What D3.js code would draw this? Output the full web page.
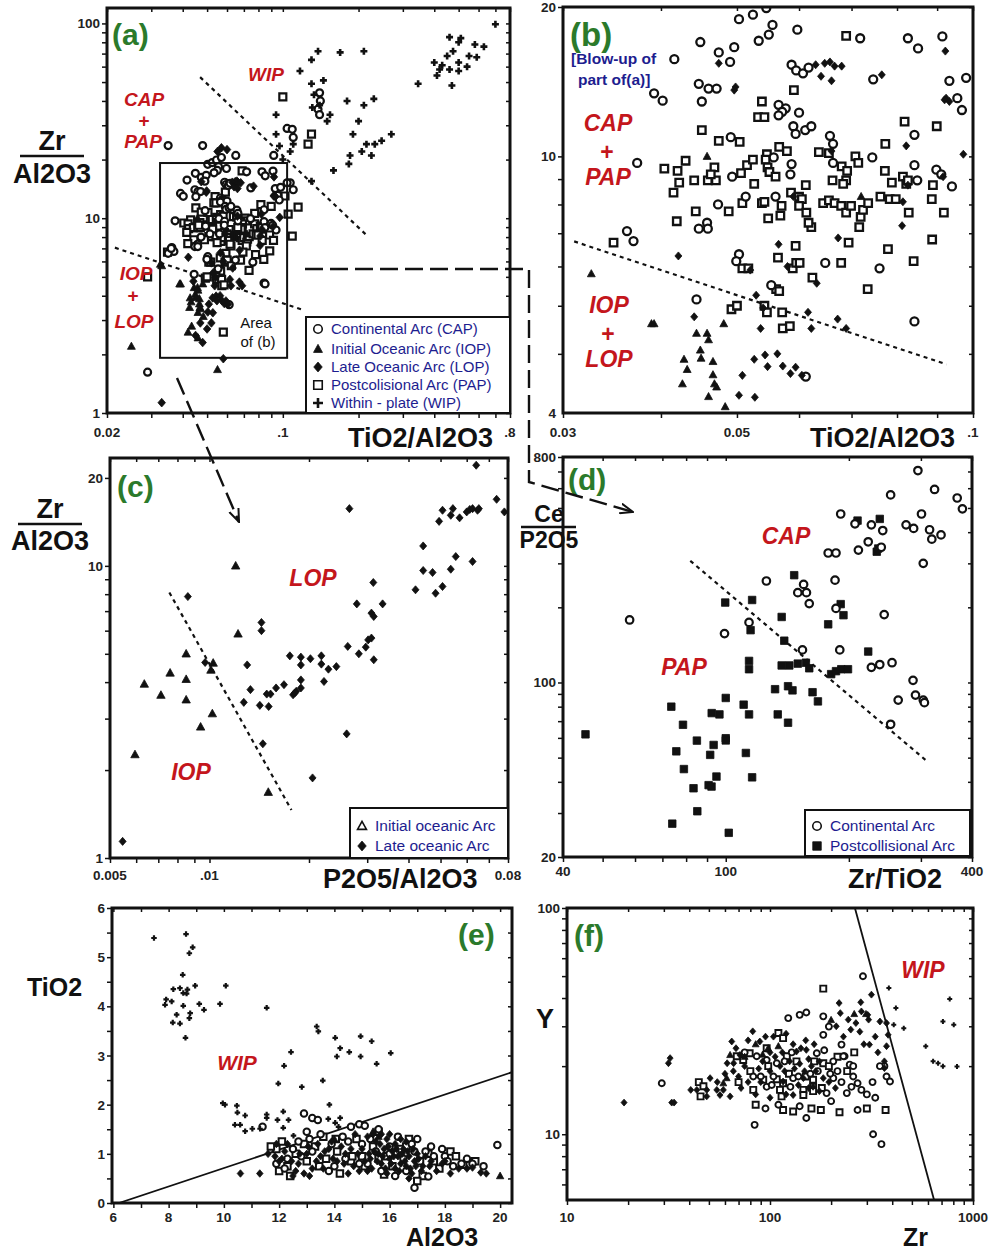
<!DOCTYPE html>
<html>
<head>
<meta charset="utf-8">
<script src="https://cdn.jsdelivr.net/npm/d3@7"></script>
<style>
  body { margin: 0; background: #fff; }
  svg { display: block; }
  text { font-family: "Liberation Sans", Arial, sans-serif; }
</style>
</head>
<body>
<svg id="fig" width="990" height="1254"></svg>
<script>
// ---- data ----
// (b) TiO2/Al2O3 vs Zr/Al2O3, blow-up (also re-used inside the box of (a))
const bCAP = [[0.0503,18.9],[0.0524,19.3],[0.0545,19.9],[0.0555,18.4],[0.0549,17.6],[0.0533,17.1],[0.0597,18],[0.0718,17.3],[0.0826,17.3],[0.0851,16.5],[0.0914,17.45],[0.0449,17],[0.0474,16.2],[0.0496,16.6],[0.049,15.5],[0.0416,15.7],[0.0587,15.3],[0.0595,14.9],[0.0607,14.7],[0.0617,15.1],[0.0746,14.3],[0.0933,14.2],[0.098,14.4],[0.0447,14],[0.046,13.7],[0.0471,13.7],[0.0392,13.4],[0.0402,12.95],[0.0451,12.9],[0.0565,12.7],[0.0577,12.5],[0.0571,12.3],[0.0565,12.1],[0.06,12.25],[0.0955,13.1],[0.0968,12.4],[0.0491,10.93],[0.059,11.5],[0.0594,11.1],[0.0611,11.3],[0.0622,11.5],[0.0842,11.05],[0.0657,11],[0.0663,10.6],[0.0557,9.95],[0.0744,9.95],[0.0663,9.7],[0.0373,9.7],[0.0493,9.1],[0.0587,9.65],[0.0585,9.2],[0.0842,9.6],[0.0849,8.95],[0.0898,9.4],[0.0911,9.2],[0.094,8.7],[0.056,8.3],[0.0513,8.3],[0.0473,8],[0.0458,7.35],[0.0447,7.15],[0.0459,7.15],[0.0362,7.07],[0.0369,6.75],[0.0503,6.35],[0.0499,6.15],[0.0648,6.1],[0.076,5.95],[0.0553,5.5],[0.0444,5.15],[0.0842,4.65],[0.0612,3.6]]
const bPAP = [[0.0689,17.5],[0.0591,13.6],[0.0538,12.9],[0.0532,12],[0.0542,12],[0.0451,11.3],[0.0474,10.75],[0.0504,10.7],[0.0818,11.75],[0.0899,11.5],[0.0566,10.45],[0.0579,10.25],[0.0773,10.6],[0.0636,10.2],[0.0655,10.15],[0.0546,10.1],[0.0708,10],[0.0714,9.7],[0.068,9.55],[0.0691,9.35],[0.0404,9.45],[0.043,9.8],[0.042,9.35],[0.0422,8.85],[0.0441,8.95],[0.0459,8.95],[0.047,8.95],[0.0468,9.5],[0.0463,9.2],[0.0506,9.25],[0.0515,9.6],[0.0524,9.85],[0.0544,9.85],[0.0547,9.5],[0.055,9.3],[0.056,9.1],[0.0772,9.35],[0.0788,8.85],[0.0814,9.1],[0.0822,8.8],[0.0826,8.95],[0.0889,8.75],[0.0689,8.95],[0.0683,8.8],[0.0662,8.95],[0.0415,8.45],[0.0526,8.8],[0.0612,8.75],[0.0586,8.45],[0.06,8.3],[0.0605,8.2],[0.06,7.95],[0.0613,7.7],[0.0622,7.2],[0.0617,7.35],[0.0538,8.05],[0.0542,8.1],[0.0508,8.05],[0.0488,7.75],[0.0443,7.75],[0.0419,7.4],[0.0568,7.6],[0.057,7.95],[0.0548,7.5],[0.0644,8.05],[0.0655,8.15],[0.0666,8.05],[0.0679,7.95],[0.0689,7.7],[0.0699,7.95],[0.0719,7.55],[0.0724,7.8],[0.0735,8.05],[0.0716,7.2],[0.0762,8.3],[0.0783,8.2],[0.0797,8.2],[0.0828,7.7],[0.0886,8.2],[0.0918,7.7],[0.0348,6.7],[0.0887,6.8],[0.0694,6.7],[0.0594,6.6],[0.0564,6.25],[0.0508,5.95],[0.0517,5.95],[0.0589,5.95],[0.0595,6.1],[0.0601,6.1],[0.0779,6.5],[0.0679,6.1],[0.084,6.15],[0.0624,5.7],[0.0561,5.4],[0.0566,5.35],[0.0734,5.4],[0.0492,4.92],[0.05,5],[0.0542,5],[0.0546,4.85],[0.0571,4.85],[0.0572,4.5],[0.0584,4.55]]
const bLOP = [[0.0922,16.3],[0.0474,15.4],[0.063,15.3],[0.064,14.5],[0.0647,15.4],[0.0657,15.5],[0.0666,15.2],[0.066,14.2],[0.068,15.2],[0.0765,14.6],[0.0498,13.8],[0.0496,13.6],[0.0924,13.1],[0.0933,12.9],[0.092,13],[0.0822,10.5],[0.0972,10.1],[0.066,10.25],[0.0826,8.75],[0.0916,9.1],[0.059,8.3],[0.0814,8.1],[0.0812,7.25],[0.0421,6.3],[0.0673,6.85],[0.0565,6.65],[0.052,5.9],[0.058,6],[0.0632,5.55],[0.0529,5.25],[0.0441,4.75],[0.054,4.95],[0.0616,4.85],[0.0672,4.7],[0.0536,4.5],[0.0622,4.5],[0.0689,4.5],[0.0543,3.98],[0.0563,4],[0.0526,3.9],[0.0547,3.77],[0.0572,3.78],[0.0585,3.65],[0.0594,3.76],[0.0605,3.62],[0.0508,3.62],[0.0503,3.3],[0.0527,3.27]]
const bIOP = [[0.0458,10],[0.072,8.3],[0.0326,5.8],[0.0389,4.6],[0.0392,4.6],[0.0481,4.6],[0.0444,4.4],[0.0458,4.4],[0.046,4.27],[0.0449,4.07],[0.045,3.92],[0.0428,3.9],[0.0432,3.72],[0.0426,3.48],[0.0466,3.86],[0.0466,3.63],[0.0468,3.48],[0.0471,3.43],[0.046,3.28],[0.0483,3.13]]

// (a) samples lying outside the window of (b)
const aWIP = [[0.7,99],[0.138,72],[0.13,65],[0.169,71],[0.21,72],[0.117,57],[0.145,51],[0.13,49],[0.46,85],[0.51,84],[0.5,80],[0.58,78],[0.63,76],[0.475,72],[0.45,68],[0.55,68],[0.4,63],[0.43,61],[0.5,63],[0.59,67],[0.42,58],[0.46,58],[0.41,54],[0.5,57],[0.54,60],[0.47,48],[0.345,49],[0.18,40],[0.21,38],[0.23,41],[0.094,34],[0.133,43],[0.14,38],[0.154,34],[0.15,31.5],[0.131,37],[0.2,31.5],[0.19,27],[0.215,24],[0.232,24],[0.247,25],[0.27,27],[0.206,22],[0.185,21],[0.183,19],[0.225,21],[0.159,17.6],[0.13,15.5],[0.094,27],[0.11,24],[0.107,22],[0.097,23.5],[0.1,20]]
const aCAP = [[0.035,23.6],[0.048,23.6],[0.029,1.62],[0.104,28.9],[0.109,28.6],[0.11,26],[0.14,44],[0.141,40],[0.138,36.3],[0.14,34],[0.092,21],[0.107,15.2],[0.085,4.6],[0.035,6.6],[0.036,7],[0.104,15.2],[0.11,14],[0.057,20.5],[0.065,21]]
const aPAP = [[0.1,42],[0.13,27],[0.126,24],[0.029,5],[0.058,2.6],[0.109,8.1],[0.115,11.4],[0.102,13],[0.105,10.5]]
const aIOP = [[0.025,2.2],[0.055,1.67],[0.033,5.7],[0.0434,2.79],[0.046,2.43],[0.042,2.6]]
const aLOP = [[0.033,1.13],[0.058,1.9],[0.055,22],[0.057,23],[0.06,22.5],[0.045,2.5],[0.048,2.3],[0.05,2.7],[0.052,2.9],[0.047,2.9]]
const aAreaB = [[0.0325, 1.92], [0.104, 19.2]]
const aLineWIP = [[0.0469, 53], [0.216, 8.15]]
const aLineIOP = [[0.0215, 7.06], [0.122, 3.36]]
const bLine = [[0.031, 6.74], [0.0925, 3.81]]

// (c) P2O5/Al2O3 vs Zr/Al2O3
const cIOP = [[0.012,10],[0.0122,5.85],[0.0085,5],[0.0076,4.3],[0.0085,4.09],[0.00635,3.94],[0.00713,3.61],[0.0085,3.48],[0.01026,4.65],[0.0102,3.12],[0.0094,2.81],[0.00595,2.26],[0.01506,1.68],[0.0101,4.4]]
const cLOP = [[0.00546,1.14],[0.0086,7.85],[0.01436,6.4],[0.01436,6],[0.0097,4.67],[0.013,4.58],[0.0133,3.77],[0.0127,3.41],[0.0142,3.33],[0.0151,3.3],[0.0149,3.64],[0.0153,3.64],[0.0159,3.82],[0.0168,3.92],[0.0179,3.62],[0.0183,3.72],[0.0189,3.82],[0.0189,4.07],[0.0181,3.67],[0.0175,4.92],[0.0189,4.87],[0.0189,4.58],[0.0202,4.81],[0.0218,4.92],[0.0218,4.61],[0.0229,4.43],[0.0222,4.02],[0.0242,4.52],[0.0262,5.3],[0.0283,5],[0.0297,5.27],[0.0302,5.58],[0.0309,5.66],[0.0314,4.77],[0.0279,7.41],[0.0309,6.89],[0.0314,6.71],[0.0334,7.41],[0.0313,8.77],[0.026,2.66],[0.0205,1.88],[0.0145,2.46],[0.0265,15.7],[0.042,8.28],[0.0443,9.64],[0.0473,9.49],[0.0483,8.06],[0.0443,11.7],[0.0507,8.5],[0.0537,9.74],[0.0556,10.76],[0.0625,10.35],[0.0495,14.2],[0.0507,15.5],[0.0545,15.7],[0.0537,14.9],[0.0571,14.6],[0.06,15.3],[0.0613,15.6],[0.0625,15.7],[0.0647,15.5],[0.0653,15.7],[0.0641,22.1],[0.0739,16.9],[0.078,15.3]]
const cLine = [[0.00756, 8.11], [0.0177, 1.46]]

// (d) Zr/TiO2 vs Ce/P2O5
const dCAP = [[58.2,178],[99.3,157],[125.7,255],[114,174],[154,135],[150,229],[155,247],[157.5,229],[160,207],[185,257],[186,198],[190,135],[191,473],[178,330],[186,330],[207,432],[211,339],[223,366],[227,428],[242,406],[240,348],[253,564],[295,706],[324,593],[368,548],[379,496],[301,473],[276,428],[288,414],[315,409],[319,375],[336,390],[304,300],[244,187],[227,115],[238,118],[255,120],[287,102],[291,89],[304,85],[306,83],[264,85],[253,68]]
const dPAP = [[45.4,62],[73.6,80],[78.6,67.7],[75.7,53],[85,58.5],[79,45],[83.4,37.7],[85.2,30.5],[74,27.2],[101.7,25],[91.6,51.3],[93.4,56.2],[90.8,38.8],[92.3,38.3],[94.9,42],[92.4,75.4],[96.5,74.5],[100,86.7],[100,59.8],[100,58.6],[110.6,81.5],[114,74.5],[112,52.2],[116,41.7],[114,122],[114,113],[116,214],[99.7,209],[115,162],[132,94],[134,74.5],[142,69],[137,183],[139,147],[147,269],[137,117],[143,117],[150,119],[157,120],[160,114],[142,96.6],[145.6,93],[163,91.4],[168,84],[178,171],[191,206],[194,186],[181,108],[186,111],[191.6,113],[199,113],[210,445],[238,452],[234,334],[236,344],[223,133]]
const dLine = [[81.9, 307], [309, 48.7]]

// (e) Al2O3 vs TiO2
const eWIP = [[7.47,5.39],[8.63,5.47],[8.75,5.08],[8.87,5.2],[8.51,4.64],[8.17,4.35],[8.41,4.37],[8.53,4.27],[8.68,4.34],[8.96,4.42],[8.65,4.26],[7.91,4.14],[7.87,4.03],[8.11,4.1],[8.53,4.01],[8.78,3.86],[8.75,3.76],[9.28,3.93],[9.11,4.05],[9.86,4.05],[10.07,4.42],[8.15,3.67],[8.41,3.65],[8.29,3.83],[8.61,3.36],[11.55,3.97],[13.36,3.59],[13.42,3.49],[14.03,3.36],[14.21,3.15],[14.09,2.98],[14.54,3.07],[14.95,3.39],[14.95,2.98],[15.35,3.29],[15.53,2.83],[16.04,3.05],[12.43,3.07],[12.18,2.79],[11.97,2.43],[12.82,2.36],[13.58,2.49],[13.82,2],[9.96,2.03],[10.04,2],[10.47,1.98],[10.49,1.84],[10.4,1.59],[10.59,1.59],[10.77,1.78],[10.77,1.46],[11.03,1.51],[11.55,1.8],[11.55,1.73],[11.94,1.69],[12.15,1.86],[12.34,1.69],[12.15,1.53],[12.52,1.37],[14.21,1.73],[14.15,1.55],[14.03,1.63],[13.78,1.71],[11.31,1.51]]
const eCAP = [[11.4,1.55],[12.9,1.82],[13.2,1.73],[13.4,1.69],[14.9,1.6],[15.1,1.57],[15.6,1.5],[17,1.3],[17.9,1.1],[19.9,1.18],[16.3,1.35],[13.5,1.4],[14.5,1.25],[15,1.2],[16,1.15],[16.8,1.2],[17.3,1.05],[18,0.95],[18.6,0.8],[12.5,1.1],[12.8,0.95],[13.1,1.3],[14,0.75],[15.2,0.8],[16.5,0.9],[17.6,0.95],[18.3,0.75],[12.2,0.7],[16.2,0.55],[16.9,0.31],[14.3,1.35],[13.9,1.2],[15.5,1.05],[16.6,0.65],[19,0.8],[17.4,0.54],[12.3,0.9],[12.7,1.25],[13.2,1.05],[13.8,0.65],[14.4,0.9],[14.9,0.8],[15.3,1.3],[15.7,0.65],[16,1],[16.9,1.05],[17.5,1.15],[18.1,0.85],[18.8,0.9],[19.4,0.75],[14.6,1.55],[13,1.45],[11.9,0.8]]
const ePAP = [[12,0.65],[12.3,0.75],[12.6,1],[13,0.85],[13.3,1.15],[13.7,0.9],[14.1,1.05],[14.6,0.85],[15,0.95],[15.4,1.15],[15.8,0.58],[15.9,0.95],[16.4,1.1],[16.7,1.3],[17.1,0.85],[17.4,1],[17.8,0.7],[18.2,1.05],[18.7,0.78],[18.9,0.78],[11.9,1.1],[13.6,1.35],[14.8,1.3],[15.6,1.45],[16.1,0.75],[17.2,0.55],[12.4,0.55],[14.2,0.6],[12.9,1.2],[13.45,0.75],[14.05,1.3],[14.65,0.95],[15.1,0.75],[15.6,0.9],[16.2,1],[16.6,1.15],[17.6,0.85],[18.4,0.95],[19.1,0.85],[17,0.45],[12.1,1.25],[11.7,1.15]]
const eLOP = [[10.6,0.6],[11.3,0.6],[11.6,1],[11.9,1.2],[12.1,0.9],[12.5,0.55],[12.7,0.8],[13,1],[13.2,0.7],[13.5,0.95],[13.8,1.1],[14.1,0.85],[14.4,1],[14.7,0.75],[15,1.1],[15.3,0.9],[15.5,1.25],[15.6,1],[15.7,0.8],[15.8,1.1],[15.9,1.3],[16,0.9],[16.1,1.05],[16.2,0.7],[16.3,0.95],[16.4,0.8],[16.5,1.1],[16.6,0.75],[16.7,0.95],[16.8,0.6],[16.9,0.85],[17,1],[17.2,0.75],[17.5,0.85],[17.7,0.65],[18,0.85],[18.5,0.7],[19,0.72],[19.3,0.62],[12.3,1.2],[13.9,1.25],[14.9,0.65],[15.2,0.65],[15.4,1.4],[16.2,1.2],[13.4,1.2],[12.9,0.6],[15.9,0.6],[16.6,1.25],[15.45,1.05],[15.55,0.85],[15.65,1.2],[15.75,0.95],[15.85,0.7],[15.95,1.15],[16.05,0.8],[16.15,0.95],[16.25,1.1],[16.35,0.65],[16.45,1],[16.55,0.85],[16.65,1.05],[16.75,0.7],[16.85,1.1],[16.95,0.75],[17.05,0.9],[17.15,0.65],[17.3,0.95],[17.45,0.75],[15.25,1],[15.1,0.85],[14.85,1],[14.6,1.1],[14.35,0.8],[14.25,1.15],[13.95,0.9],[13.65,1.05],[13.35,0.85],[13.05,1.15],[12.75,1],[12.45,0.85],[12.2,1.05],[12,0.85],[11.85,0.95],[12.6,0.65],[13.1,0.55],[13.6,0.7],[14.5,0.6],[15.35,0.7],[16.7,0.5],[17.9,0.8],[18.2,0.6],[18.8,0.7],[19.5,0.6],[14.75,1.4],[15.2,1.35],[15.7,1.4],[16,1.4],[16.4,1.3]]
const eIOP = [[20,0.55],[15.6,1.35],[15.4,1.45],[14,1.3]]
const eLine = [[6.2, 0], [20.43, 2.66]]

// (f) Zr vs Y
const fWIP = [[385,44.3],[417,36.1],[407,30.5],[456,29.4],[768,39.6],[711,31.5],[804,30.5],[585,24.5],[636,21],[673,20.6],[711,20],[834,19.9]]
const fCAP = [[29.3,16.8],[84,11],[322,10],[354,9.04],[287,49.9],[123,32.6],[140,33.7],[151,34.5],[183,33.2],[195,29.9],[183,27.5],[225,24.9],[233,22.1],[86,22.1],[96.3,21.3],[108,20.6],[170,22.8],[205,21],[230,22.1],[247,20.3],[257,20],[366,20],[375,18],[390,17.1],[348,20],[252,16.2],[239,15.2],[282,15.7],[257,18],[270,16.8],[82.7,18],[104,18],[130,17.7],[205,17.7],[96.3,16.2],[126,16.2],[190,15.2],[270,12.8],[151,11.8],[75,23],[90,18],[102,16.5],[118,21],[128,23],[138,18],[158,18.5],[172,19],[185,23.5],[198,18.5],[215,19],[225,17],[110,13.5],[95,13],[140,13.3],[200,14],[320,17],[330,14.5],[300,15]]
const fPAP = [[183,44],[44.6,17],[47,16.3],[45.5,14.7],[92.6,17.4],[121,22.1],[116,16.8],[163,17.4],[82.7,15.7],[112,15.7],[146,15.7],[163,16.2],[116,12.8],[178,12.8],[371,12.8],[114,14.7],[146,14.9],[163,15.5],[79.4,22.8],[73.8,21.3],[68.6,22.1],[96.3,24],[110,28],[116,26.6],[183,20.6],[70,17],[80,19],[98,20],[108,17.5],[124,18.5],[135,21],[150,18],[165,21],[180,16],[195,20],[215,22],[240,19],[260,23],[85,13.5],[130,12.6],[160,13],[220,12.5],[300,13]]
const fLOP = [[19.1,13.8],[32.8,13.8],[33.7,13.8],[32.2,21.7],[31.6,20.6],[40.7,15.7],[50.7,17.7],[64.8,25.7],[82.2,28.5],[219,38],[222,34.3],[243,32.1],[280,38.3],[316,41.4],[282,34.9],[303,33.7],[306,32.1],[348,31.5],[375,31],[382,27.5],[277,28.4],[309,24.9],[366,21],[375,24.5],[366,19.6],[61.5,20.6],[66.2,20.6],[71.1,22.4],[56.7,14.9],[63.6,14.7],[89.1,25.7],[104,27],[120,27.8],[135,23.2],[151,23.6],[116,17.1],[146,17.7],[183,17.7],[163,16.2],[130,14.9],[43.6,15.7],[48.8,15.7],[54.7,15.7],[58.9,15.7],[48.8,14.7],[66,19],[70,18],[75,20],[78,17],[88,19.5],[92,21],[100,19],[106,22],[112,20],[118,19],[125,21],[132,19.5],[140,20.5],[148,19],[155,21.5],[160,20],[168,19],[175,21],[142,24],[130,25],[150,26],[165,25],[115,23],[100,23],[90,17],[72,16],[85,15],[138,16.5],[155,16],[175,15.5],[195,17],[210,16],[60,18.5],[55,17],[100,14.5],[120,15],[68,24],[78,26],[95,27],[212,30],[230,27],[250,29],[265,31],[330,27],[340,23],[290,25]]
const fIOP = [[85,25],[98,24],[63.6,22.4],[297,34],[58.9,16.8],[61.2,17.7],[75,22],[92,22.5],[110,24.5],[200,32],[260,34]]
const fLine = [[262, 100], [643, 5.12]]

// tick labels [value, text]
const aXTicks = [[0.02, '0.02'], [0.1, '.1'], [0.8, '.8']]
const aYTicks = [[100, '100'], [10, '10'], [1, '1']]
const bXTicks = [[0.03, '0.03'], [0.05, '0.05'], [0.1, '.1']]
const bYTicks = [[20, '20'], [10, '10'], [3.04, '4']]
const cXTicks = [[0.005, '0.005'], [0.01, '.01'], [0.08, '0.08']]
const cYTicks = [[20, '20'], [10, '10'], [1, '1']]
const dXTicks = [[40, '40'], [100, '100'], [400, '400']]
const dYTicks = [[800, '800'], [100, '100'], [20, '20']]
const eXTicks = [6, 8, 10, 12, 14, 16, 18, 20].map(v => [v, String(v)])
const eYTicks = [0, 1, 2, 3, 4, 5, 6].map(v => [v, String(v)])
const fXTicks = [[10, '10'], [100, '100'], [1000, '1000']]
const fYTicks = [[100, '100'], [10, '10']]

const aLegend = [['circle', 'Continental Arc (CAP)'], ['tri', 'Initial Oceanic Arc (IOP)'], ['diamond', 'Late Oceanic Arc (LOP)'], ['square', 'Postcolisional Arc (PAP)'], ['plus', 'Within - plate (WIP)']]
const cLegend = [['triOpen', 'Initial oceanic Arc'], ['diamond', 'Late oceanic Arc']]
const dLegend = [['circle', 'Continental Arc'], ['squareFill', 'Postcollisional Arc']]

const GREEN = '#2b7a2b'
const RED = '#c4161c'
const NAVY = '#1d1d8f'

const svg = d3.select('#fig')
svg.append('rect').attr('width', 990).attr('height', 1254).attr('fill', '#fff')

const defs = svg.append('defs')
defs.append('marker')
  .attr('id', 'arr').attr('viewBox', '0 -6 14 12')
  .attr('refX', 13).attr('refY', 0)
  .attr('markerWidth', 14).attr('markerHeight', 12)
  .attr('markerUnits', 'userSpaceOnUse').attr('orient', 'auto')
  .append('path').attr('d', 'M0,-5L13,0L0,5').attr('fill', 'none')
  .attr('stroke', '#111').attr('stroke-width', 2)

// marker shapes, s = size in px
function shape (kind, s) {
  const r = s / 2
  switch (kind) {
    case 'circle': return d3.symbol(d3.symbolCircle, Math.PI * r * r)()
    case 'square':
    case 'squareFill': return `M${-r},${-r}h${s}v${s}h${-s}Z`
    case 'diamond': return `M0,${-r * 1.15}L${r},0L0,${r * 1.15}L${-r},0Z`
    case 'tri':
    case 'triOpen': return `M0,${-r * 1.1}L${r * 1.05},${r * 0.8}L${-r * 1.05},${r * 0.8}Z`
    case 'plus': return `M${-r},0H${r}M0,${-r}V${r}`
  }
}

function styleMark (sel, kind, sw) {
  const open = ['circle', 'square', 'triOpen', 'plus'].includes(kind)
  sel.attr('fill', open ? (kind === 'plus' ? 'none' : '#fff') : '#111')
    .attr('stroke', '#111')
    .attr('stroke-width', open ? (sw || 2) : 0.8)
}

let clipN = 0

function panel (o) {
  const g = svg.append('g')
  const x = (o.xlog ? d3.scaleLog() : d3.scaleLinear()).domain(o.xd).range([o.x0, o.x1])
  const y = (o.ylog ? d3.scaleLog() : d3.scaleLinear()).domain(o.yd).range([o.y1, o.y0])

  const xt = o.xlog ? x.ticks() : x.ticks(o.xn || 14)
  const yt = o.ylog ? y.ticks() : y.ticks(o.yn || 12)

  const ax = [
    [d3.axisBottom(x).tickValues(xt).tickSize(5), `translate(0,${o.y1})`],
    [d3.axisTop(x).tickValues(xt).tickSize(-4), `translate(0,${o.y0})`],
    [d3.axisLeft(y).tickValues(yt).tickSize(5), `translate(${o.x0},0)`],
    [d3.axisRight(y).tickValues(yt).tickSize(-4), `translate(${o.x1},0)`]
  ]
  ax.forEach(([a, t]) => {
    const ga = g.append('g').attr('transform', t).call(a.tickFormat(''))
    ga.select('.domain').remove()
    ga.selectAll('line').attr('stroke', '#111').attr('stroke-width', 1.5)
  })

  const id = 'clip' + (clipN++)
  defs.append('clipPath').attr('id', id).append('rect')
    .attr('x', o.x0).attr('y', o.y0).attr('width', o.x1 - o.x0).attr('height', o.y1 - o.y0)
  const inner = g.append('g').attr('clip-path', `url(#${id})`)

  // boundary lines
  ;(o.lines || []).forEach(l => {
    inner.append('line')
      .attr('x1', x(l.d[0][0])).attr('y1', y(l.d[0][1]))
      .attr('x2', x(l.d[1][0])).attr('y2', y(l.d[1][1]))
      .attr('stroke', '#111').attr('stroke-width', l.dash ? 2.2 : 1.8)
      .attr('stroke-dasharray', l.dash ? '4,4' : null)
  })

  // points
  o.series.forEach(s => {
    inner.append('g').selectAll('path').data(s.data).join('path')
      .attr('transform', d => `translate(${x(d[0])},${y(d[1])})`)
      .attr('d', shape(s.kind, s.size || 7))
      .call(sel => styleMark(sel, s.kind, s.sw))
  })

  // frame
  g.append('rect').attr('x', o.x0).attr('y', o.y0)
    .attr('width', o.x1 - o.x0).attr('height', o.y1 - o.y0)
    .attr('fill', 'none').attr('stroke', '#111').attr('stroke-width', 3)

  // tick labels
  g.selectAll('.xl').data(o.xTicks).join('text')
    .attr('x', d => x(d[0])).attr('y', o.xLabY)
    .attr('text-anchor', 'middle').attr('font-size', 13.5).attr('font-weight', 'bold')
    .attr('fill', '#222').text(d => d[1])
  g.selectAll('.yl').data(o.yTicks).join('text')
    .attr('x', o.x0 - 7).attr('y', d => y(d[0]) + 5)
    .attr('text-anchor', 'end').attr('font-size', 13.5).attr('font-weight', 'bold')
    .attr('fill', '#222').text(d => d[1])

  return { g, x, y }
}

function txt (x, y, s, size, color, opts = {}) {
  return svg.append('text').attr('x', x).attr('y', y).text(s)
    .attr('font-size', size).attr('fill', color)
    .attr('font-weight', opts.weight || 'bold')
    .attr('font-style', opts.italic ? 'italic' : null)
    .attr('text-anchor', opts.anchor || 'start')
}

function frac (cx, num, den, yNum, yLine, yDen, x1, x2, size) {
  txt(cx, yNum, num, size, '#111', { anchor: 'middle' })
  svg.append('line').attr('x1', x1).attr('x2', x2).attr('y1', yLine).attr('y2', yLine)
    .attr('stroke', '#111').attr('stroke-width', 2.5)
  txt(cx, yDen, den, size, '#111', { anchor: 'middle' })
}

function legend (x0, y0, x1, y1, items, rowY, fs) {
  svg.append('rect').attr('x', x0).attr('y', y0).attr('width', x1 - x0).attr('height', y1 - y0)
    .attr('fill', '#fff').attr('stroke', '#111').attr('stroke-width', 2)
  items.forEach(([kind, label], i) => {
    const yy = rowY[i]
    svg.append('path').attr('transform', `translate(${x0 + 12},${yy - 5})`)
      .attr('d', shape(kind, kind === 'plus' ? 10 : 8.5))
      .call(sel => styleMark(sel, kind, kind === 'plus' ? 2.6 : 1.6))
    txt(x0 + 25, yy, label, fs, NAVY, { weight: 'normal' })
  })
}

// ---- (a) ----
const pa = panel({
  x0: 107, x1: 510, y0: 8, y1: 413, xlog: true, ylog: true,
  xd: [0.02, 0.8], yd: [1, 120],
  xTicks: aXTicks, yTicks: aYTicks, xLabY: 437,
  lines: [{ d: aLineWIP, dash: true }, { d: aLineIOP, dash: true }],
  series: [
    { data: bPAP, kind: 'square', sw: 2.2 }, { data: aPAP, kind: 'square', sw: 2.2 },
    { data: bCAP, kind: 'circle', sw: 2.2 }, { data: aCAP, kind: 'circle', sw: 2.2 },
    { data: bLOP, kind: 'diamond', size: 7.5 }, { data: aLOP, kind: 'diamond', size: 7.5 },
    { data: bIOP, kind: 'tri', size: 7.5 }, { data: aIOP, kind: 'tri', size: 7.5 },
    { data: aWIP, kind: 'plus', size: 7, sw: 2.6 }
  ]
})
pa.g.append('rect')
  .attr('x', pa.x(aAreaB[0][0])).attr('y', pa.y(aAreaB[1][1]))
  .attr('width', pa.x(aAreaB[1][0]) - pa.x(aAreaB[0][0]))
  .attr('height', pa.y(aAreaB[0][1]) - pa.y(aAreaB[1][1]))
  .attr('fill', 'none').attr('stroke', '#111').attr('stroke-width', 2)
txt(256, 328, 'Area', 15, '#111', { weight: 'normal', anchor: 'middle' })
txt(258, 347, 'of (b)', 15, '#111', { weight: 'normal', anchor: 'middle' })
legend(306, 317, 510, 413, aLegend, [334, 354, 372, 390, 408], 15)
txt(112, 45, '(a)', 30, GREEN)
txt(248, 81, 'WIP', 19, RED, { italic: true })
txt(144, 106, 'CAP', 19, RED, { italic: true, anchor: 'middle' })
txt(144, 127, '+', 19, RED, { anchor: 'middle' })
txt(143, 148, 'PAP', 19, RED, { italic: true, anchor: 'middle' })
txt(136, 280, 'IOP', 19, RED, { italic: true, anchor: 'middle' })
txt(133, 302, '+', 19, RED, { anchor: 'middle' })
txt(134, 328, 'LOP', 19, RED, { italic: true, anchor: 'middle' })
frac(52, 'Zr', 'Al2O3', 150, 156, 183, 20, 84, 27)
txt(348, 447, 'TiO2/Al2O3', 27, '#111')

// ---- (b) ----
panel({
  x0: 563, x1: 973, y0: 7, y1: 413, xlog: true, ylog: true,
  xd: [0.03, 0.1], yd: [3.04, 20],
  xTicks: bXTicks, yTicks: bYTicks, xLabY: 437,
  lines: [{ d: bLine, dash: true }],
  series: [
    { data: bPAP, kind: 'square', size: 7.5, sw: 2.3 },
    { data: bCAP, kind: 'circle', size: 8, sw: 2.3 },
    { data: bLOP, kind: 'diamond', size: 7 },
    { data: bIOP, kind: 'tri', size: 7.5 }
  ]
})
txt(570, 46, '(b)', 33, GREEN)
txt(571, 64, '[Blow-up of', 15.5, NAVY)
txt(578, 85, 'part of(a)]', 15.5, NAVY)
txt(608, 131, 'CAP', 23, RED, { italic: true, anchor: 'middle' })
txt(607, 160, '+', 23, RED, { anchor: 'middle' })
txt(608, 185, 'PAP', 23, RED, { italic: true, anchor: 'middle' })
txt(609, 313, 'IOP', 23, RED, { italic: true, anchor: 'middle' })
txt(608, 342, '+', 23, RED, { anchor: 'middle' })
txt(609, 367, 'LOP', 23, RED, { italic: true, anchor: 'middle' })
txt(810, 447, 'TiO2/Al2O3', 27, '#111')

// ---- (c) ----
panel({
  x0: 110, x1: 508, y0: 458, y1: 858, xlog: true, ylog: true,
  xd: [0.005, 0.08], yd: [1, 23.4],
  xTicks: cXTicks, yTicks: cYTicks, xLabY: 880,
  lines: [{ d: cLine, dash: true }],
  series: [
    { data: cLOP, kind: 'diamond', size: 7 },
    { data: cIOP, kind: 'tri', size: 8 }
  ]
})
legend(350, 808, 508, 858, cLegend, [831, 851], 15.5)
txt(117, 497, '(c)', 30, GREEN)
txt(313, 586, 'LOP', 23, RED, { italic: true, anchor: 'middle' })
txt(191, 780, 'IOP', 23, RED, { italic: true, anchor: 'middle' })
frac(50, 'Zr', 'Al2O3', 518, 524, 550, 18, 82, 27)
txt(323, 888, 'P2O5/Al2O3', 27, '#111')

// ---- (d) ----
panel({
  x0: 563, x1: 972, y0: 457, y1: 857, xlog: true, ylog: true,
  xd: [40, 400], yd: [20, 800],
  xTicks: dXTicks, yTicks: dYTicks, xLabY: 876,
  lines: [{ d: dLine, dash: true }],
  series: [
    { data: dPAP, kind: 'squareFill', size: 7.5 },
    { data: dCAP, kind: 'circle', size: 7.5, sw: 2.2 }
  ]
})
legend(805, 810, 970, 856, dLegend, [831, 851], 15.5)
txt(568, 490, '(d)', 30, GREEN)
txt(786, 544, 'CAP', 23, RED, { italic: true, anchor: 'middle' })
txt(684, 675, 'PAP', 23, RED, { italic: true, anchor: 'middle' })
frac(549, 'Ce', 'P2O5', 522, 527, 548, 521, 576, 23)
txt(848, 888, 'Zr/TiO2', 27, '#111')

// ---- (e) ----
panel({
  x0: 112, x1: 512, y0: 908, y1: 1203, xlog: false, ylog: false,
  xd: [5.95, 20.43], yd: [0, 6], xn: 14, yn: 12,
  xTicks: eXTicks, yTicks: eYTicks, xLabY: 1222,
  lines: [{ d: eLine, dash: false }],
  series: [
    { data: ePAP, kind: 'square', size: 6.5, sw: 2 },
    { data: eCAP, kind: 'circle', size: 6.5, sw: 2 },
    { data: eLOP, kind: 'diamond', size: 6.5 },
    { data: eIOP, kind: 'tri', size: 7 },
    { data: eWIP, kind: 'plus', size: 5.5, sw: 2.2 }
  ]
})
txt(458, 945, '(e)', 30, GREEN)
txt(237, 1070, 'WIP', 21, RED, { italic: true, anchor: 'middle' })
txt(27, 996, 'TiO2', 25, '#111')
txt(406, 1246, 'Al2O3', 25, '#111')

// ---- (f) ----
panel({
  x0: 567, x1: 973, y0: 908, y1: 1200, xlog: true, ylog: true,
  xd: [10, 1000], yd: [5.12, 100],
  xTicks: fXTicks, yTicks: fYTicks, xLabY: 1222,
  lines: [{ d: fLine, dash: false }],
  series: [
    { data: fPAP, kind: 'square', size: 6, sw: 1.9 },
    { data: fCAP, kind: 'circle', size: 6, sw: 1.9 },
    { data: fLOP, kind: 'diamond', size: 6 },
    { data: fIOP, kind: 'tri', size: 6.5 },
    { data: fWIP, kind: 'plus', size: 5, sw: 2 }
  ]
})
txt(574, 946, '(f)', 30, GREEN)
txt(923, 978, 'WIP', 23, RED, { italic: true, anchor: 'middle' })
txt(536, 1028, 'Y', 27, '#111')
txt(903, 1246, 'Zr', 25, '#111')

// ---- connectors between panels ----
svg.append('path')
  .attr('d', 'M305,269H529V482L633,512')
  .attr('fill', 'none').attr('stroke', '#111').attr('stroke-width', 2.4)
  .attr('stroke-dasharray', '18,7').attr('marker-end', 'url(#arr)')
svg.append('path')
  .attr('d', 'M177,378L239,522')
  .attr('fill', 'none').attr('stroke', '#111').attr('stroke-width', 2.4)
  .attr('stroke-dasharray', '18,7').attr('marker-end', 'url(#arr)')
</script>
</body>
</html>
